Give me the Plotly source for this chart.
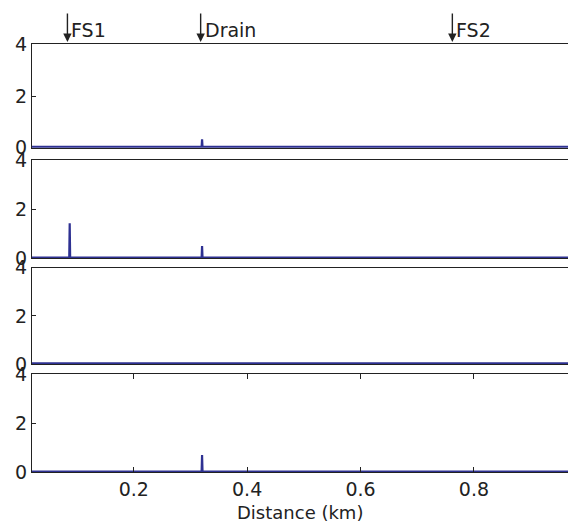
import plotly.graph_objects as go

# Distance samples (km) and the four profiles
distance_km = [0.020, 0.050, 0.0862, 0.0870, 0.0878, 0.150, 0.200, 0.250, 0.300,
               0.3197, 0.3205, 0.3213, 0.350, 0.400, 0.450, 0.500, 0.550, 0.600,
               0.650, 0.700, 0.750, 0.800, 0.850, 0.900, 0.966]
panel1 = [0.03, 0.03, 0.03, 0.03, 0.03, 0.03, 0.03, 0.03, 0.03,
          0.03, 0.32, 0.03, 0.03, 0.03, 0.03, 0.03, 0.03, 0.03,
          0.03, 0.03, 0.03, 0.03, 0.03, 0.03, 0.03]
panel2 = [0.03, 0.03, 0.03, 1.43, 0.03, 0.03, 0.03, 0.03, 0.03,
          0.03, 0.50, 0.03, 0.03, 0.03, 0.03, 0.03, 0.03, 0.03,
          0.03, 0.03, 0.03, 0.03, 0.03, 0.03, 0.03]
panel3 = [0.03, 0.03, 0.03, 0.03, 0.03, 0.03, 0.03, 0.03, 0.03,
          0.03, 0.03, 0.03, 0.03, 0.03, 0.03, 0.03, 0.03, 0.03,
          0.03, 0.03, 0.03, 0.03, 0.03, 0.03, 0.03]
panel4 = [0.03, 0.03, 0.03, 0.03, 0.03, 0.03, 0.03, 0.03, 0.03,
          0.03, 0.70, 0.03, 0.03, 0.03, 0.03, 0.03, 0.03, 0.03,
          0.03, 0.03, 0.03, 0.03, 0.03, 0.03, 0.03]
panels = [panel1, panel2, panel3, panel4]

marker_names = ["FS1", "Drain", "FS2"]
marker_pos = [0.083, 0.318, 0.762]

x_tickvals = [0.2, 0.4, 0.6, 0.8]
x_ticktext = ["0.2", "0.4", "0.6", "0.8"]
y_tickvals = [0, 2, 4]
y_ticktext = ["0", "2", "4"]
x_title = "Distance (km)"

W, H = 568, 526
line_color = "#2E3192"
font_family = "DejaVu Sans, Arial, sans-serif"
txt_color = "#222222"

# panel pixel extents (top, bottom)
pix = [(44.3, 147.7), (160.0, 258.3), (267.7, 364.0), (374.0, 472.3)]

fig = go.Figure()
layout = dict(
    template="none",
    width=W, height=H,
    margin=dict(l=32, r=0, t=0, b=0, pad=0),
    paper_bgcolor="white", plot_bgcolor="white",
    showlegend=False,
    font=dict(family=font_family, size=18, color=txt_color),
)

for i, ys in enumerate(panels):
    n = i + 1
    xa = "x" if n == 1 else f"x{n}"
    ya = "y" if n == 1 else f"y{n}"
    fig.add_trace(go.Scatter(x=distance_km, y=ys, mode="lines",
                             line=dict(color=line_color, width=2.2),
                             xaxis=xa, yaxis=ya, hoverinfo="skip"))
    top, bot = pix[i]
    dom = [1 - bot / H, 1 - top / H]
    last = (n == 4)
    layout["xaxis" if n == 1 else f"xaxis{n}"] = dict(
        domain=[0, 1], range=[0.0205, 0.966], anchor=ya,
        automargin=False,
        showgrid=False, zeroline=False,
        showline=True, linecolor=txt_color, linewidth=1.2,
        mirror="ticks" if last else True,
        ticks="inside" if last else "", ticklen=5, tickcolor=txt_color,
        tickvals=x_tickvals, ticktext=x_ticktext,
        showticklabels=last,
        tickfont=dict(size=19, family=font_family, color=txt_color),
    )
    layout["yaxis" if n == 1 else f"yaxis{n}"] = dict(
        domain=dom, range=[0, 4], anchor=xa,
        automargin=False,
        showgrid=False, zeroline=False,
        showline=True, linecolor=txt_color, linewidth=1.2,
        ticks="inside", ticklen=4, tickcolor=txt_color,
        tickvals=y_tickvals, ticktext=y_ticktext,
        tickfont=dict(size=19, family=font_family, color=txt_color),
    )

fig.update_layout(**layout)

annotations = []
for name, xp in zip(marker_names, marker_pos):
    annotations.append(dict(
        x=xp, y=1 - 42 / H, xref="x", yref="paper",
        text="", showarrow=True, ax=0, ay=-30, axref="pixel", ayref="pixel",
        arrowhead=2, arrowsize=1.2, arrowwidth=1.4, arrowcolor=txt_color,
        standoff=0, startstandoff=0,
    ))
    annotations.append(dict(
        x=xp, y=1 - 30 / H, xref="x", yref="paper",
        text=name, showarrow=False, xanchor="left", yanchor="middle",
        xshift=2, font=dict(size=19, family=font_family, color=txt_color),
    ))
annotations.append(dict(
    x=0.5, y=1 - 512 / H, xref="paper", yref="paper",
    text=x_title, showarrow=False, xanchor="center", yanchor="middle",
    font=dict(size=18, family=font_family, color=txt_color),
))
fig.update_layout(annotations=annotations)

fig.write_html(
    "out.html",
    config={"displayModeBar": False},
    post_script="document.body.style.margin='0';document.body.style.padding='0';"
                "document.body.style.overflow='hidden';",
)
